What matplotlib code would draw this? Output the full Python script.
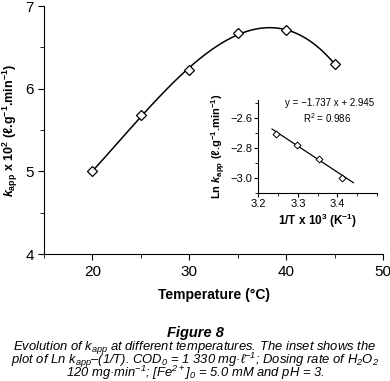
import numpy as np
import matplotlib
matplotlib.use('Agg')
import matplotlib.pyplot as plt
from matplotlib.ticker import MultipleLocator

plt.rcParams['font.family'] = ['Liberation Sans', 'DejaVu Sans']
plt.rcParams['mathtext.fontset'] = 'custom'
plt.rcParams['mathtext.it'] = 'Liberation Sans:italic:bold'
plt.rcParams['mathtext.default'] = 'regular'

# data
temp = [20, 25, 30, 35, 40, 45]
kapp = [5.00, 5.68, 6.23, 6.67, 6.71, 6.30]

inv_t = [3.245, 3.299, 3.354, 3.411]
ln_k = [-2.707, -2.777, -2.870, -2.996]
slope = -1.737
icpt = 2.945

fig = plt.figure(figsize=(3.9, 3.81), dpi=100)
ax = fig.add_axes([0.113, 0.333, 0.869, 0.651])

# smooth fit through the points
c = np.polyfit(temp, kapp, 3)
xs = np.linspace(temp[0], temp[-1], 200)
ax.plot(xs, np.polyval(c, xs), color='k', lw=1.1)
ax.plot(temp, kapp, 'D', mfc='white', mec='k', ms=5.5, mew=0.9)

ax.set_xlim(15, 50)
ax.set_ylim(4, 7)
ax.xaxis.set_major_locator(MultipleLocator(10))
ax.xaxis.set_minor_locator(MultipleLocator(5))
ax.yaxis.set_major_locator(MultipleLocator(1))
ax.yaxis.set_minor_locator(MultipleLocator(0.5))
for s in ['top', 'right']:
    ax.spines[s].set_visible(False)
ax.tick_params(which='major', length=4, labelsize=11)
ax.tick_params(which='minor', length=3)
ax.set_xlabel('Temperature (°C)', fontweight='bold', fontsize=10, labelpad=7)
ax.set_ylabel('$\\mathit{k}_{app}$ x 10$^{2}$ (ℓ.g$^{-1}$.min$^{-1}$)', fontweight='bold', fontsize=9)

# inset
ins = fig.add_axes([0.662, 0.493, 0.305, 0.245])
lx = np.array([3.235, 3.44])
ins.plot(lx, slope * lx + icpt, color='k', lw=0.9)
ins.plot(inv_t, ln_k, 'D', mfc='white', mec='k', ms=3.5, mew=0.7)
ins.set_xlim(3.2, 3.5)
ins.set_ylim(-3.1, -2.48)
ins.set_xticks([3.2, 3.3, 3.4])
ins.xaxis.set_minor_locator(MultipleLocator(0.05))
ins.set_yticks([-3.0, -2.8, -2.6])
ins.yaxis.set_minor_locator(MultipleLocator(0.1))
for s in ['top', 'right']:
    ins.spines[s].set_visible(False)
ins.tick_params(which='major', length=3, labelsize=8, pad=1)
ins.tick_params(which='minor', length=2)
ins.set_xlabel('1/T x 10$^{3}$ (K$^{-1}$)', fontweight='bold', fontsize=8.5, labelpad=2)
ins.set_ylabel('Ln $\\mathit{k}_{app}$ (ℓ.g$^{-1}$.min$^{-1}$)', fontweight='bold', fontsize=8, labelpad=2)
ins.text(0.6, 0.97, 'y = \u22121.737 x + 2.945', transform=ins.transAxes,
         ha='center', va='center', fontsize=7)
ins.text(0.58, 0.80, 'R$^{2}$ = 0.986', transform=ins.transAxes,
         ha='center', va='center', fontsize=7)

# caption
fig.text(0.5, 1 - 337 / 381, 'Figure 8', ha='center', va='baseline',
         fontsize=10.5, fontweight='bold', style='italic')
cap = ['Evolution of k$_{app}$ at different temperatures. The inset shows the',
       'plot of Ln k$_{app}$\u2013(1/T). COD$_{0}$ = 1 330 mg\u00b7\u2113$^{\u22121}$; Dosing rate of H$_{2}$O$_{2}$',
       '120 mg\u00b7min$^{\u22121}$; [Fe$^{2+}$]$_{0}$ = 5.0 mM and pH = 3.']
for i, line in enumerate(cap):
    fig.text(0.5, 1 - (350 + 13.5 * i) / 381, line, ha='center', va='baseline',
             fontsize=9.4, style='italic')

fig.savefig('out.png', dpi=100)
